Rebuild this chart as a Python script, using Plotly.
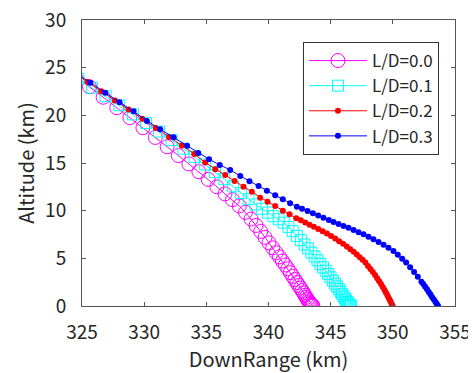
import plotly.graph_objects as go

# L/D = 0.0 (magenta circles)
ld00_x = [324.45, 325.6, 326.7, 327.8, 328.85, 329.9, 330.9, 331.85, 332.75, 333.6, 334.4,
          335.15, 335.85, 336.5, 337.1, 337.65, 338.15, 338.6, 339.0, 339.37, 339.72,
          340.04, 340.34, 340.62, 340.88, 341.12, 341.35, 341.56, 341.76, 341.95, 342.12,
          342.28, 342.43, 342.57, 342.7, 342.82, 342.93, 343.03, 343.12, 343.2, 343.28,
          343.35, 343.42, 343.48, 343.53, 343.57]
ld00_y = [24.1, 23.0, 21.9, 20.8, 19.75, 18.7, 17.68, 16.7, 15.78, 14.9, 14.08,
          13.28, 12.5, 11.76, 11.15, 10.5, 9.82, 9.12, 8.45, 7.82, 7.2,
          6.62, 6.1, 5.6, 5.15, 4.72, 4.3, 3.9, 3.5, 3.12, 2.78,
          2.46, 2.16, 1.88, 1.62, 1.38, 1.12, 0.9, 0.72, 0.56, 0.41,
          0.28, 0.17, 0.09, 0.04, 0.0]

# L/D = 0.1 (cyan squares)
ld01_x = [324.7, 325.8, 326.9, 328.0, 329.1, 330.15, 331.2, 332.2, 333.15, 334.05, 334.9,
          335.7, 336.45, 337.15, 337.8, 338.4, 338.95, 339.47, 339.95, 340.4, 340.82,
          341.22, 341.6, 341.95, 342.28, 342.6, 342.9, 343.18, 343.45, 343.7, 343.94,
          344.17, 344.39, 344.6, 344.8, 344.99, 345.17, 345.34, 345.5, 345.65, 345.79,
          345.92, 346.04, 346.15, 346.25, 346.34, 346.42, 346.5, 346.58, 346.64]
ld01_y = [23.85, 22.9, 22.0, 21.05, 20.1, 19.2, 18.3, 17.4, 16.5, 15.65, 14.85,
          14.05, 13.3, 12.55, 11.85, 11.2, 10.65, 10.2, 9.8, 9.42, 9.1,
          8.75, 8.3, 7.85, 7.35, 6.9, 6.45, 6.05, 5.6, 5.2, 4.8,
          4.42, 4.05, 3.7, 3.35, 3.0, 2.67, 2.35, 2.05, 1.77, 1.5,
          1.24, 1.0, 0.78, 0.58, 0.42, 0.28, 0.16, 0.07, 0.0]

# L/D = 0.2 (red dots)
ld02_x = [324.35, 325.45, 326.55, 327.65, 328.75, 329.85, 330.93, 332.0, 333.03, 334.03,
          334.91, 335.72, 336.52, 337.27, 337.99, 338.66, 339.33, 339.92, 340.54, 341.15,
          341.69, 342.23, 342.6, 342.95, 343.3, 343.65, 344.0, 344.35, 344.7, 345.03,
          345.36, 345.68, 346.0, 346.3, 346.58, 346.85, 347.1, 347.34, 347.57, 347.79,
          348.0, 348.2, 348.39, 348.57, 348.74, 348.9, 349.05, 349.19, 349.32, 349.44,
          349.55, 349.65, 349.74, 349.83, 349.91, 349.98]
ld02_y = [24.45, 23.5, 22.53, 21.56, 20.6, 19.63, 18.68, 17.74, 16.83, 15.95,
          15.04, 14.34, 13.74, 13.11, 12.52, 11.99, 11.36, 10.94, 10.49, 10.0,
          9.62, 9.2, 9.0, 8.76, 8.53, 8.3, 8.07, 7.84, 7.6, 7.35,
          7.08, 6.8, 6.52, 6.24, 5.96, 5.68, 5.4, 5.12, 4.84, 4.55,
          4.2, 3.87, 3.57, 3.25, 2.92, 2.6, 2.3, 2.0, 1.7, 1.42,
          1.15, 0.9, 0.66, 0.44, 0.22, 0.03]

# L/D = 0.3 (blue dots)
ld03_x = [324.5, 325.67, 326.87, 328.02, 329.15, 330.22, 331.29, 332.37, 333.45, 334.35,
          335.22, 336.08, 336.92, 337.73, 338.47, 339.2, 339.87, 340.54, 341.15, 341.74,
          342.28, 342.7, 343.14, 343.57, 344.0, 344.42, 344.85, 345.23, 345.63, 346.03,
          346.43, 346.84, 347.24, 347.64, 348.04, 348.44, 348.85, 349.25, 349.65, 350.05,
          350.4, 350.75, 351.07, 351.39, 351.71, 352.01, 352.3, 352.45, 352.6, 352.75,
          352.89, 353.03, 353.16, 353.3, 353.43, 353.54, 353.64]
ld03_y = [24.45, 23.43, 22.38, 21.37, 20.42, 19.41, 18.53, 17.69, 16.8, 16.05,
          15.4, 14.8, 14.27, 13.64, 13.08, 12.59, 12.1, 11.61, 11.19, 10.77,
          10.42, 10.2, 9.97, 9.72, 9.48, 9.27, 9.02, 8.81, 8.6, 8.39,
          8.2, 7.97, 7.73, 7.52, 7.27, 6.99, 6.71, 6.43, 6.12, 5.77,
          5.38, 4.96, 4.55, 4.06, 3.57, 3.08, 2.55, 2.3, 2.03, 1.75,
          1.47, 1.2, 0.91, 0.67, 0.42, 0.2, 0.0]

series_names = ["L/D=0.0", "L/D=0.1", "L/D=0.2", "L/D=0.3"]
x_ticks = [325, 330, 335, 340, 345, 350, 355]
y_ticks = [0, 5, 10, 15, 20, 25, 30]

FONT = "Noto Sans CJK JP"
TXT = "#262626"

fig = go.Figure()
fig.add_trace(go.Scatter(x=ld00_x, y=ld00_y, name=series_names[0], mode="lines+markers",
                         line=dict(color="#FF00FF", width=1),
                         marker=dict(symbol="circle-open", size=14, color="#FF00FF",
                                     line=dict(width=1, color="#FF00FF"))))
fig.add_trace(go.Scatter(x=ld01_x, y=ld01_y, name=series_names[1], mode="lines+markers",
                         line=dict(color="#00FFFF", width=1),
                         marker=dict(symbol="square-open", size=11, color="#00FFFF",
                                     line=dict(width=1, color="#00FFFF"))))
fig.add_trace(go.Scatter(x=ld02_x, y=ld02_y, name=series_names[2], mode="lines+markers",
                         line=dict(color="#FF0000", width=1),
                         marker=dict(symbol="circle", size=6, color="#FF0000")))
fig.add_trace(go.Scatter(x=ld03_x, y=ld03_y, name=series_names[3], mode="lines+markers",
                         line=dict(color="#0000FF", width=1),
                         marker=dict(symbol="circle", size=6, color="#0000FF")))

axis_common = dict(showgrid=False, zeroline=False, showline=True, linecolor="#555555",
                   linewidth=1, mirror="ticks", ticks="inside", ticklen=4,
                   tickcolor="#555555", automargin=False, ticklabeloverflow="allow",
                   tickfont=dict(family=FONT, size=19, color=TXT))

fig.update_xaxes(range=[325, 355], tickvals=x_ticks, ticktext=[str(v) for v in x_ticks],
                 title=dict(text="DownRange (km)", font=dict(family=FONT, size=20, color=TXT),
                            standoff=7),
                 ticklabelstandoff=9, **axis_common)
fig.update_yaxes(range=[0, 30], tickvals=y_ticks, ticktext=[str(v) for v in y_ticks],
                 title=dict(text="Altitude (km)", font=dict(family=FONT, size=20, color=TXT),
                            standoff=5),
                 ticklabelstandoff=11, **axis_common)

fig.update_layout(
    width=476, height=373,
    margin=dict(l=74, r=29, t=12, b=75),
    paper_bgcolor="white", plot_bgcolor="white",
    font=dict(family=FONT, color=TXT),
    legend=dict(x=0.957, y=0.923, xanchor="right", yanchor="top",
                bgcolor="white", bordercolor="#333333", borderwidth=1,
                font=dict(family=FONT, size=17, color=TXT),
                itemwidth=58,
                tracegroupgap=0, itemsizing="trace"),
    showlegend=True,
)

fig.write_html("out.html")
